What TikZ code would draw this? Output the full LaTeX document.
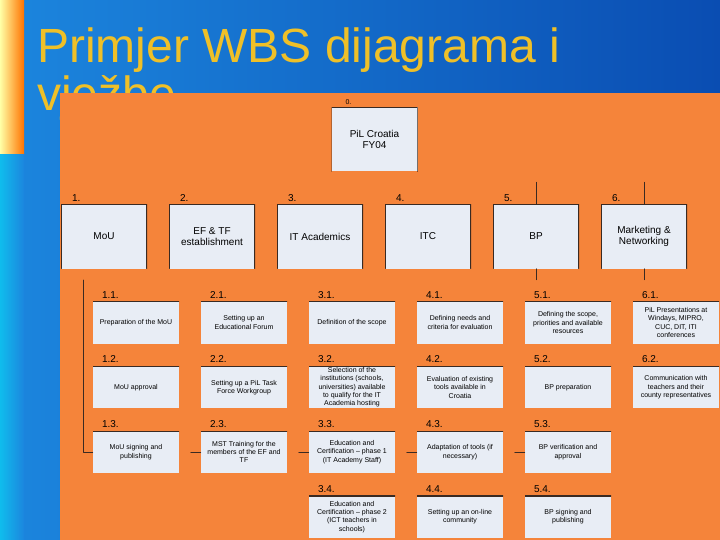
\documentclass[tikz,border=0pt]{standalone}
\usepackage{fontspec}
\setmainfont{Liberation Sans}
\usetikzlibrary{positioning}
\definecolor{bgleft}{HTML}{1C86DE}
\definecolor{bgright}{HTML}{0A4DB2}
\definecolor{panelorange}{HTML}{F5843A}
\definecolor{boxfill}{HTML}{E8EDF5}
\definecolor{boxedge}{HTML}{3A2A22}
\definecolor{titlegold}{HTML}{EFC028}
\begin{document}
\begin{tikzpicture}[x=1pt,y=-1pt,line join=round,line cap=round,
	wbsbox/.style={fill=boxfill,minimum width=86pt,minimum height=42pt,inner sep=0.5pt,align=center,
		font=\fontsize{7}{8.2}\selectfont,
		path picture={\draw[boxedge,line width=1.2pt] (path picture bounding box.north west)--(path picture bounding box.north east);}},
	topbox/.style={wbsbox,minimum height=64pt,font=\fontsize{10}{11.5}\selectfont,
		path picture={\draw[boxedge,line width=1.2pt] (path picture bounding box.south west)--(path picture bounding box.north west)--(path picture bounding box.north east)--(path picture bounding box.south east);}},
	num/.style={anchor=south west,inner sep=0pt,font=\fontsize{10}{10}\selectfont}]
	\useasboundingbox (0,0) rectangle (720,540);
	% slide background
	\shade[left color=bgleft,right color=bgright] (0,0) rectangle (720,540);
	\shade[left color=yellow!35!white,right color=orange!90!red] (0,0) rectangle (24,155);
	\shade[left color=cyan!45!bgleft,right color=bgleft] (0,155) rectangle (24,540);
	\node[anchor=base west,inner sep=0pt,text=titlegold,font=\fontsize{48}{48}\selectfont] (titleA) at (37,63) {Primjer WBS dijagrama i};
	\node[anchor=base west,inner sep=0pt,text=titlegold,font=\fontsize{48}{48}\selectfont] (titleB) at (37,111) {vježbe};
	\fill[panelorange] (60,93) rectangle (720,540);
	% WBS
	\node[topbox] (n0) at (374.5,139.5) {PiL Croatia\\FY04};
	\node[num,font=\fontsize{7}{7}\selectfont] (l0) at ([xshift=14pt,yshift=3pt]n0.north west) {0.};
	\foreach \t [count=\i] in {MoU,{EF \& TF\\establishment},IT Academics,ITC,BP,{Marketing \&\\Networking}}{
		\node[topbox] (n\i) at ({104+108*(\i-1)},236.5) {\t};
		\node[num] (l\i) at ([xshift=11pt,yshift=3pt]n\i.north west) {\i.};
	}
	\foreach \c/\r/\t in {1/1/{Preparation of the MoU},1/2/{MoU approval},1/3/{MoU signing and\\publishing},
		2/1/{Setting up an\\Educational Forum},2/2/{Setting up a PiL Task\\Force Workgroup},2/3/{MST Training for the\\members of the EF and\\TF},
		3/1/{Definition of the scope},3/2/{Selection of the\\institutions (schools,\\universities) available\\to qualify for the IT\\Academia hosting},
		3/3/{Education and\\Certification -- phase 1\\(IT Academy Staff)},3/4/{Education and\\Certification -- phase 2\\(ICT teachers in\\schools)},
		4/1/{Defining needs and\\criteria for evaluation},4/2/{Evaluation of existing\\tools available in\\Croatia},4/3/{Adaptation of tools (if\\necessary)},4/4/{Setting up an on-line\\community},
		5/1/{Defining the scope,\\priorities and available\\resources},5/2/{BP preparation},5/3/{BP verification and\\approval},5/4/{BP signing and\\publishing},
		6/1/{PiL Presentations at\\Windays, MIPRO,\\CUC, DIT, ITI\\conferences},6/2/{Communication with\\teachers and their\\county representatives}}{
		\node[wbsbox] (n\c\r) at ({136+108*(\c-1)},{322.5+64.8*(\r-1)}) {\t};
		\node[num] (l\c\r) at ([xshift=9pt,yshift=3pt]n\c\r.north west) {\c.\r.};
	}
	% connectors
	\coordinate (c1) at (83,280);
	\draw[boxedge,line width=0.7pt] (c1) |- (n13.west);
	\foreach \c in {2,...,5}{\draw[boxedge,line width=0.7pt] (n\c3.west) -- ++(-10,0);}
	\foreach \c in {5,6}{\draw[boxedge,line width=0.7pt] (n\c.north) -- ++(0,-22) (n\c.south) -- ++(0,11);}
\end{tikzpicture}
\end{document}
